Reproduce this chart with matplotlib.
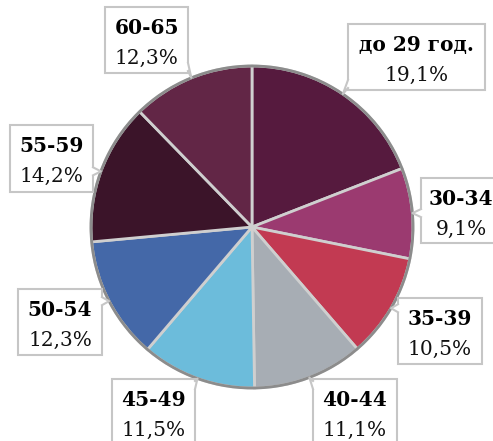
import numpy as np
import matplotlib.pyplot as plt
from matplotlib.patches import Rectangle, Polygon, Circle

# age groups and shares (%)
groups = ['до 29 год.', '30-34', '35-39', '40-44', '45-49', '50-54', '55-59', '60-65']
shares = [19.1, 9.1, 10.5, 11.1, 11.5, 12.3, 14.2, 12.3]
share_labels = ['19,1%', '9,1%', '10,5%', '11,1%', '11,5%', '12,3%', '14,2%', '12,3%']
colors = ['#561a3e', '#9b3a70', '#c23a52', '#a7adb4', '#6cbcdb', '#4468a8', '#3b1429', '#622646']

# label boxes in pixel coords (left, top, right, bottom), y from the top
boxes = [(348, 24, 485, 90), (421, 178, 510, 243), (398, 298, 482, 364),
         (313, 379, 397, 460), (112, 379, 195, 460), (18, 289, 102, 355),
         (10, 125, 93, 192), (105, 7, 188, 73)]

W, H = 493, 441
fig = plt.figure(figsize=(W / 100, H / 100), dpi=100)
ax = fig.add_axes([0, 0, 1, 1])

cx, cy, r = 252, H - 227, 161
wedges, _ = ax.pie(shares, colors=colors, startangle=90, counterclock=False,
                   center=(cx, cy), radius=r, frame=True,
                   wedgeprops=dict(edgecolor='#cfcfcf', linewidth=2))
ax.set_xlim(0, W)
ax.set_ylim(0, H)
ax.set_aspect('equal')
ax.axis('off')
ax.add_patch(Circle((cx, cy), r, fill=False, edgecolor='#8c8c8c', lw=2, zorder=3))

border = '#c6c6c6'
font = 'DejaVu Serif'
for w, name, lab, (l, t, rr, b) in zip(wedges, groups, share_labels, boxes):
    ang = np.deg2rad((w.theta1 + w.theta2) / 2)
    tip = np.array([cx + r * np.cos(ang), cy + r * np.sin(ang)])
    x0, x1, y0, y1 = l, rr, H - b, H - t
    px = min(max(tip[0], x0), x1)
    py = min(max(tip[1], y0), y1)
    # pick the nearest edge to anchor the tail
    d = [abs(px - x0), abs(px - x1), abs(py - y0), abs(py - y1)]
    k = int(np.argmin(d))
    if k in (0, 1):
        ex = x0 if k == 0 else x1
        py = min(max(py, y0 + 6), y1 - 6)
        s = 2 if k else -2
        base = [(ex, py - 4), (ex, py + 4)]
        inner = [(ex - s, py - 4), (ex - s, py + 4)]
    else:
        ey = y0 if k == 2 else y1
        px = min(max(px, x0 + 6), x1 - 6)
        s = 2 if k == 3 else -2
        base = [(px - 4, ey), (px + 4, ey)]
        inner = [(px - 4, ey - s), (px + 4, ey - s)]
    ax.add_patch(Rectangle((x0, y0), x1 - x0, y1 - y0, facecolor='white',
                           edgecolor=border, lw=1.5, zorder=4))
    ax.add_patch(Polygon([inner[0], base[0], tuple(tip), base[1], inner[1]],
                         closed=True, facecolor='white', edgecolor='none', zorder=5))
    ax.plot([base[0][0], tip[0], base[1][0]], [base[0][1], tip[1], base[1][1]],
            color=border, lw=1.5, zorder=5)
    xm = (l + rr) / 2 if rr <= W else (l + W) / 2 + 4
    ax.text(xm, H - (t + 21), name, ha='center', va='center', fontsize=14.5,
            fontweight='bold', family=font, color='#000000', zorder=6)
    ax.text(xm, H - (t + 51), lab, ha='center', va='center', fontsize=14.5,
            family=font, color='#111111', zorder=6)

fig.savefig('out.png', dpi=100)
